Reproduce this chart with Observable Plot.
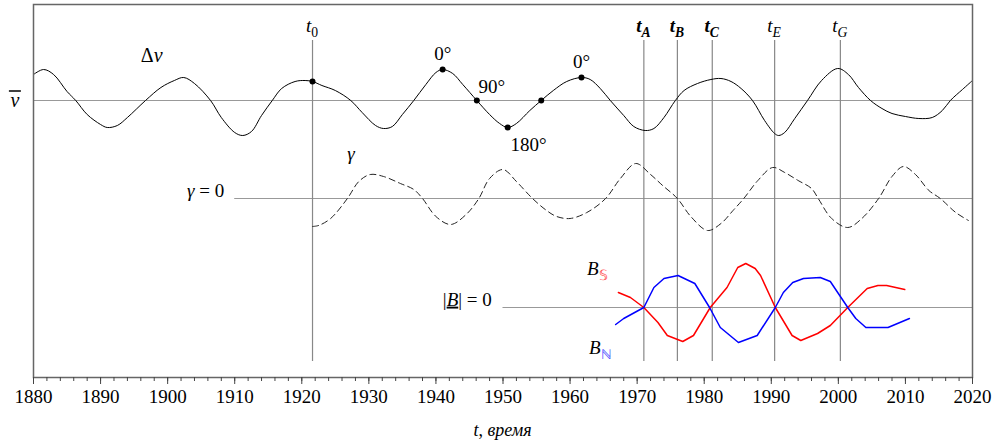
<!DOCTYPE html>
<html>
<head>
<meta charset="utf-8">
<script src="https://cdn.jsdelivr.net/npm/d3@7"></script>
<script src="https://cdn.jsdelivr.net/npm/@observablehq/plot@0.6"></script>
<style>
  body { margin: 0; background: #fff; }
  svg { display: block; }
</style>
</head>
<body>
<div id="chart"></div>
<script>
// Δv: deviation of the velocity from its mean (arbitrary units)
const deltaVYears = [1880, 1881.5, 1883, 1885, 1886.3, 1888, 1890, 1891, 1892.5, 1894, 1896.7, 1899, 1901, 1902.4, 1904, 1906.4, 1908, 1910, 1911.2, 1912.5, 1914, 1915.6, 1917, 1919, 1920.5, 1921.6, 1923, 1925, 1927.3, 1929, 1931, 1932.2, 1933.5, 1935, 1936.7, 1938.5, 1940, 1941, 1942.5, 1944, 1946.1, 1948, 1949.5, 1950.7, 1952, 1954, 1955.7, 1957.5, 1959.5, 1961.7, 1963, 1964.5, 1966, 1968, 1969.5, 1971.2, 1972.5, 1974, 1975.7, 1977, 1979, 1981, 1982.5, 1984, 1985.5, 1987.2, 1989, 1990.5, 1991.1, 1992, 1993.5, 1995.4, 1997.5, 1999.9, 2001.5, 2003, 2004.8, 2006.5, 2008, 2010, 2012, 2014, 2015.5, 2016.7, 2018.5, 2020];
const deltaV = [26, 31, 26, 9, 0, -14, -24, -27, -25, -17, 0, 13, 20, 23, 17, 0, -17, -32, -35, -31, -15, 0, 12, 19, 20, 19, 15, 10, 0, -12, -25, -28, -26, -14, 0, 16, 28, 31, 27, 16, 0, -14, -23, -27, -23, -10, 0, 10, 19, 23, 21, 12, 0, -15, -26, -30, -28, -17, 0, 10, 17, 21, 22, 19, 12, 0, -20, -33, -35, -32, -18, 0, 20, 32, 26, 13, 0, -8, -13, -16, -18, -17, -10, 0, 11, 20];

// phase points marked on Δv
const phaseYears = [1921.6, 1941, 1946.1, 1950.7, 1955.7, 1961.7];
const phaseValues = [19, 31, 0, -27, 0, 23];
const phaseLabels = ["", "0°", "90°", "180°", "", "0°"];

// γ (dashed)
const gammaYears = [1921.6, 1922.5, 1924.3, 1926.8, 1928.5, 1930.2, 1932.2, 1934.7, 1936.7, 1938, 1940, 1942.2, 1944.5, 1946.4, 1948, 1950, 1952, 1954.4, 1956.5, 1958, 1960, 1962.5, 1965.3, 1967.5, 1969.8, 1972, 1973.8, 1976, 1978, 1980.5, 1982.5, 1984.3, 1985.9, 1988, 1990.2, 1992, 1994, 1996, 1997, 1999, 2001.4, 2003.5, 2006, 2008, 2009.7, 2011.5, 2013.5, 2015.2, 2017.5, 2019.4];
const gamma = [-28, -27, -20, 0, 17, 24, 22, 15, 9, 0, -18, -26, -16, 0, 20, 29, 17, 0, -12, -18, -20, -14, 0, 20, 35, 24, 13, 0, -18, -32, -25, -12, 0, 18, 31, 26, 18, 10, 0, -20, -29, -20, 0, 22, 32, 24, 8, 0, -14, -22];

// B_S (southern) and B_N (northern) field components
const bSouthYears = [1967.2, 1969, 1971, 1973.1, 1974.5, 1976.8, 1978.4, 1980.9, 1983.4, 1985, 1986.2, 1987.6, 1988.4, 1990.6, 1993.1, 1994.4, 1996.9, 1998.8, 2001.4, 2004.3, 2005.9, 2007.2, 2009.9];
const bSouth = [15, 10, 0, -15, -28, -34, -28, 0, 20, 40, 44, 39, 32, 0, -28, -33, -26, -18, 0, 19, 22, 22, 18];
const bNorthYears = [1966.8, 1968, 1971, 1972.5, 1974, 1976.1, 1978.6, 1980.8, 1982.4, 1985.1, 1987.9, 1990.6, 1991.8, 1993.2, 1994.8, 1997.3, 1998.8, 2000, 2001.4, 2002.6, 2004.1, 2007.4, 2010.6];
const bNorth = [-17, -11, 0, 20, 29, 32, 24, 0, -20, -35, -28, 0, 15, 25, 29, 30, 26, 14, 0, -11, -20, -20, -11];

// event times
const markerYears = [1921.6, 1971, 1976, 1981.2, 1990.5, 2000.3];
const markerNames = ["0", "A", "B", "C", "E", "G"];
const markerBold = [false, true, true, true, false, false];

const majorTicks = d3.range(1880, 2021, 10);
const minorTicks = d3.range(1880, 2021, 2);

// vertical layout of the three stacked panels (y units)
const vBase = 277, gammaBase = 179, bBase = 70;
const FONT = "Liberation Serif";

const rows = (xs, vs, base) => xs.map((t, i) => ({year: t, y: base + vs[i]}));
const dv = rows(deltaVYears, deltaV, vBase);
const gm = rows(gammaYears, gamma, gammaBase);
const bs = rows(bSouthYears, bSouth, bBase);
const bn = rows(bNorthYears, bNorth, bBase);
const phases = phaseYears.map((t, i) => ({year: t, y: vBase + phaseValues[i], label: phaseLabels[i]}));

const plot = Plot.plot({
  width: 995,
  height: 445,
  marginTop: 4,
  marginBottom: 68,
  marginLeft: 33,
  marginRight: 23,
  x: {domain: [1880, 2020]},
  y: {domain: [0, 373], axis: null},
  style: {fontFamily: FONT, fontSize: "19px", color: "#000", background: "#fff"},
  marks: [
    Plot.ruleY([vBase], {x1: 1880, x2: 2020, stroke: "#999", strokeWidth: 1.2}),
    Plot.ruleY([gammaBase], {x1: 1910, x2: 2020, stroke: "#999", strokeWidth: 1.2}),
    Plot.ruleY([bBase], {x1: 1950, x2: 2020, stroke: "#999", strokeWidth: 1.2}),
    Plot.ruleX(markerYears, {y1: 16, y2: 337, stroke: "#888", strokeWidth: 1.2}),
    Plot.line(dv, {x: "year", y: "y", curve: "catmull-rom", stroke: "#000", strokeWidth: 1}),
    Plot.line(gm, {x: "year", y: "y", curve: "catmull-rom", stroke: "#222", strokeWidth: 1, strokeDasharray: "6,4"}),
    Plot.line(bs, {x: "year", y: "y", stroke: "#f00", strokeWidth: 1.5}),
    Plot.line(bn, {x: "year", y: "y", stroke: "#00f", strokeWidth: 1.5}),
    Plot.dot(phases, {x: "year", y: "y", r: 3, fill: "#000"}),
    Plot.frame({stroke: "#666", strokeWidth: 1.5}),
    Plot.axisX({ticks: minorTicks, tickSize: 4, tickFormat: () => "", label: null, stroke: "#444"}),
    Plot.axisX({ticks: majorTicks, tickSize: 7, tickPadding: 5, tickFormat: d => String(d), label: null, stroke: "#444", fontSize: 19})
  ]
});
document.getElementById("chart").append(plot);

// math-style labels with italics and subscripts
const xs = plot.scale("x"), ys = plot.scale("y");
const svg = d3.select(plot);
function rich(year, val, parts, anchor = "start", size = 19) {
  const t = svg.append("text")
    .attr("x", xs.apply(year)).attr("y", ys.apply(val))
    .attr("dy", "0.35em").attr("text-anchor", anchor)
    .attr("font-family", FONT).style("font-family", FONT)
    .attr("font-size", size).attr("fill", "#000");
  let shift = 0;
  for (const p of parts) {
    const s = t.append("tspan").text(p.t);
    const target = p.sub ? 5 : 0;
    if (target !== shift) { s.attr("dy", target - shift); shift = target; }
    if (p.italic) s.attr("font-style", "italic");
    if (p.bold) s.attr("font-weight", "bold");
    if (p.sub) s.attr("font-size", size * 0.72);
    if (p.fill) s.attr("fill", p.fill);
    if (p.deco) s.attr("text-decoration", p.deco);
  }
  return t;
}

markerYears.forEach((t, i) => {
  const b = markerBold[i];
  const name = markerNames[i];
  rich(t, 352, [
    {t: "t", italic: true, bold: b},
    {t: name, sub: true, italic: name !== "0", bold: b}
  ], "middle");
});

rich(1897.7, 322, [{t: "Δ"}, {t: "v", italic: true}], "middle", 20);
rich(1877.3, 277, [{t: "v", italic: true}], "middle", 20);
svg.append("line")
  .attr("x1", xs.apply(1877.3) - 6).attr("x2", xs.apply(1877.3) + 6)
  .attr("y1", ys.apply(277) - 9).attr("y2", ys.apply(277) - 9)
  .attr("stroke", "#000").attr("stroke-width", 1.5);

// degree annotations around the Δv phase points
const phaseLabelPos = {"90°": [1948.4, 291], "180°": [1953.9, 233]};
phases.filter(d => d.label).forEach(d => {
  const p = phaseLabelPos[d.label] || [d.year + 0.1, d.y + 16];
  rich(p[0], p[1], [{t: d.label}], "middle");
});

rich(1927.4, 224, [{t: "γ", italic: true}], "middle");
rich(1908.5, 187, [{t: "γ", italic: true}, {t: " = 0"}], "end");
rich(1948.4, 78, [{t: "|"}, {t: "B", italic: true, deco: "underline"}, {t: "| = 0"}], "end");
rich(1962.6, 109, [{t: "B", italic: true}, {t: "𝕊", sub: true, fill: "#ff5050"}], "start");
rich(1962.9, 30, [{t: "B", italic: true}, {t: "ℕ", sub: true, fill: "#5050ff"}], "start");
rich(1950, -53, [{t: "t", italic: true}, {t: ", "}, {t: "время", italic: true}], "middle", 18);
</script>
</body>
</html>
